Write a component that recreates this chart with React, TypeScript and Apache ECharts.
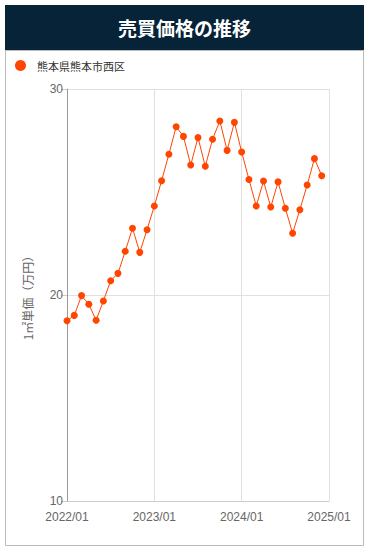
import React, { useEffect, useRef } from "react";
import * as echarts from "echarts";

const titleText = "売買価格の推移";
const seriesName = "熊本県熊本市西区";
const yAxisName = "1㎡単価（万円）";

const months: string[] = [];
for (let y = 2022; y <= 2025; y++) {
  for (let m = 1; m <= 12; m++) {
    if (y === 2025 && m > 1) break;
    months.push(`${y}/${String(m).padStart(2, "0")}`);
  }
}

const values: (number | null)[] = [
  18.75, 19.01, 19.97, 19.55, 18.77, 19.71, 20.69, 21.05, 22.12, 23.24, 22.07, 23.17,
  24.32, 25.55, 26.83, 28.17, 27.7, 26.31, 27.64, 26.25, 27.56, 28.45, 27.02, 28.38,
  26.94, 25.61, 24.32, 25.53, 24.27, 25.49, 24.21, 23.0, 24.14, 25.34, 26.62, 25.79,
  null,
];

export default function App() {
  const ref = useRef<HTMLDivElement>(null);
  useEffect(() => {
    if (!ref.current) return;
    const chart = echarts.init(ref.current, undefined, { renderer: "svg" });
    chart.setOption({
      animation: false,
      backgroundColor: "#fff",
      graphic: [
        {
          type: "rect",
          shape: { x: 5.5, y: 50.5, width: 358, height: 495 },
          style: { fill: "#fff", stroke: "#bbbbbb", lineWidth: 1 },
          z: -10,
        },
        {
          type: "rect",
          shape: { x: 5, y: 5, width: 359, height: 45 },
          style: { fill: "#062337" },
          z: -5,
        },
        {
          type: "text",
          x: 184.5,
          y: 27.5,
          style: {
            text: titleText,
            fill: "#fff",
            font: "bold 19px 'Noto Sans CJK JP', sans-serif",
            align: "center",
            verticalAlign: "middle",
          },
        },
      ],
      legend: {
        left: 10,
        top: 55,
        icon: "circle",
        itemWidth: 11,
        itemHeight: 11,
        itemGap: 8,
        textStyle: {
          color: "#333",
          fontSize: 11,
          fontFamily: "'Noto Sans CJK JP', sans-serif",
          padding: [0, 0, 0, 6],
        },
        data: [seriesName],
      },
      grid: { left: 67, right: 40, top: 89, bottom: 55 },
      xAxis: {
        type: "category",
        data: months,
        boundaryGap: false,
        axisLine: { show: true, lineStyle: { color: "#cccccc" } },
        axisTick: { show: false },
        axisLabel: {
          interval: 11,
          color: "#666",
          fontSize: 12,
          fontFamily: "Arial, 'Liberation Sans', sans-serif",
          margin: 10,
        },
        splitLine: { show: true, interval: 11, lineStyle: { color: "#e0e0e0" } },
      },
      yAxis: {
        type: "value",
        min: 10,
        max: 30,
        interval: 10,
        name: yAxisName,
        nameLocation: "middle",
        nameGap: 34,
        nameTextStyle: { color: "#666", fontSize: 12, fontFamily: "'Noto Sans CJK JP', sans-serif" },
        axisLine: { show: true, lineStyle: { color: "#999" } },
        axisTick: { show: true, length: 6, lineStyle: { color: "#cccccc" } },
        axisLabel: {
          color: "#666",
          fontSize: 12,
          fontFamily: "Arial, 'Liberation Sans', sans-serif",
          margin: 4,
        },
        splitLine: { show: true, lineStyle: { color: "#e0e0e0" } },
      },
      series: [
        {
          name: seriesName,
          type: "line",
          data: values,
          symbol: "circle",
          symbolSize: 7,
          showSymbol: true,
          showAllSymbol: true,
          itemStyle: { color: "#ff4500" },
          lineStyle: { color: "#ff4500", width: 1 },
        },
      ],
    });
    return () => chart.dispose();
  }, []);
  return (
    <div style={{ position: "fixed", left: 0, top: 0, width: 369, height: 556 }}>
      <div ref={ref} style={{ width: 369, height: 556 }} />
    </div>
  );
}
